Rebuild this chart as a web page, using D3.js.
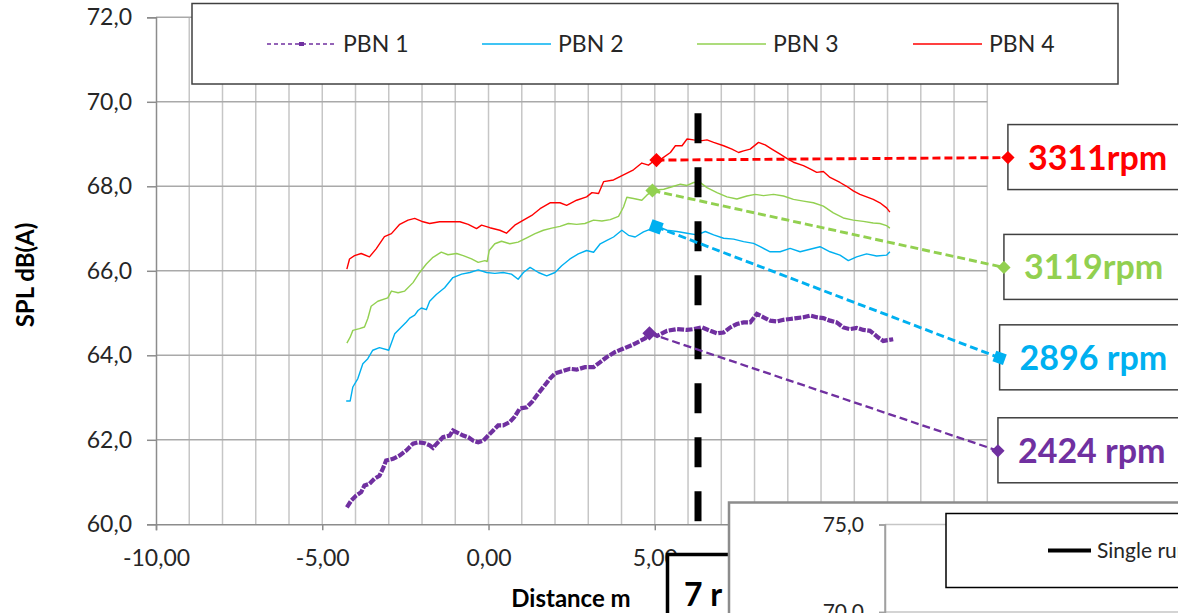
<!DOCTYPE html>
<html>
<head>
<meta charset="utf-8">
<script src="https://cdn.jsdelivr.net/npm/d3@7"></script>
<style>
  html, body { margin: 0; padding: 0; background: #fff; }
  svg { display: block; font-family: Lato, "Open Sans", sans-serif; }
</style>
</head>
<body>
<svg id="chart" width="1178" height="613"></svg>
<script>
// ---------- DATA ----------
const seriesNames = ["PBN 1", "PBN 2", "PBN 3", "PBN 4"];
const seriesColors = ["#7030A0", "#00B0F0", "#92D050", "#FF0000"];

const pbn1 = [[-4.26,60.40],[-4.13,60.56],[-3.98,60.68],[-3.83,60.76],[-3.73,60.92],[-3.58,60.96],[-3.43,61.08],[-3.28,61.15],[-3.18,61.31],[-3.08,61.51],[-2.87,61.55],[-2.67,61.63],[-2.47,61.75],[-2.27,61.91],[-2.12,61.94],[-1.92,61.92],[-1.77,61.87],[-1.67,61.81],[-1.52,61.94],[-1.37,62.06],[-1.17,62.10],[-1.07,62.22],[-0.91,62.16],[-0.76,62.10],[-0.61,62.06],[-0.46,61.98],[-0.31,61.94],[-0.16,61.98],[-0.01,62.10],[0.14,62.22],[0.29,62.34],[0.44,62.34],[0.64,62.42],[0.79,62.55],[0.94,62.74],[1.15,62.77],[1.30,62.89],[1.45,63.05],[1.65,63.25],[1.85,63.45],[2.00,63.57],[2.25,63.63],[2.45,63.68],[2.65,63.66],[2.90,63.72],[3.16,63.72],[3.36,63.84],[3.56,63.96],[3.81,64.08],[4.06,64.16],[4.31,64.24],[4.51,64.32],[4.71,64.40],[4.86,64.55],[5.07,64.46],[5.37,64.58],[5.67,64.62],[5.97,64.60],[6.17,64.62],[6.42,64.66],[6.67,64.58],[6.87,64.52],[7.07,64.54],[7.27,64.66],[7.47,64.74],[7.67,64.78],[7.87,64.78],[8.07,64.98],[8.27,64.90],[8.47,64.82],[8.67,64.80],[8.87,64.84],[9.07,64.86],[9.27,64.88],[9.47,64.90],[9.67,64.94],[9.87,64.90],[10.07,64.88],[10.27,64.82],[10.47,64.78],[10.67,64.66],[10.87,64.62],[11.07,64.65],[11.27,64.60],[11.47,64.58],[11.57,64.52],[11.72,64.42],[11.87,64.34],[12.02,64.36],[12.17,64.38]];

const pbn2 = [[-4.28,62.92],[-4.16,62.92],[-4.08,63.25],[-3.93,63.45],[-3.78,63.80],[-3.63,63.92],[-3.48,64.12],[-3.28,64.18],[-3.00,64.12],[-2.82,64.51],[-2.62,64.67],[-2.47,64.79],[-2.37,64.88],[-2.22,64.95],[-2.12,65.06],[-2.02,65.12],[-1.87,65.08],[-1.77,65.28],[-1.57,65.44],[-1.32,65.60],[-1.07,65.84],[-0.81,65.92],[-0.56,65.96],[-0.31,66.02],[-0.06,65.96],[0.19,65.94],[0.44,65.96],[0.69,65.92],[0.89,65.80],[1.05,65.96],[1.25,66.08],[1.50,65.96],[1.75,65.88],[2.00,65.96],[2.20,66.12],[2.45,66.28],[2.70,66.40],[2.95,66.48],[3.16,66.44],[3.36,66.64],[3.56,66.72],[3.76,66.80],[4.01,66.96],[4.21,66.84],[4.41,66.80],[4.66,66.92],[4.91,67.00],[5.12,67.04],[5.37,66.96],[5.67,66.93],[5.97,66.89],[6.27,66.85],[6.52,66.93],[6.77,66.85],[7.07,66.77],[7.37,66.75],[7.67,66.69],[7.97,66.65],[8.17,66.57],[8.47,66.45],[8.77,66.45],[9.07,66.53],[9.37,66.45],[9.67,66.51],[9.97,66.57],[10.27,66.45],[10.57,66.37],[10.82,66.24],[11.07,66.33],[11.37,66.40],[11.67,66.35],[11.97,66.37],[12.07,66.45]];

const pbn3 = [[-4.26,64.29],[-4.16,64.43],[-4.08,64.59],[-3.88,64.63],[-3.73,64.67],[-3.63,64.87],[-3.53,65.16],[-3.33,65.28],[-3.03,65.36],[-2.92,65.52],[-2.72,65.48],[-2.52,65.52],[-2.27,65.72],[-2.07,65.96],[-1.87,66.16],[-1.67,66.32],[-1.42,66.44],[-1.22,66.38],[-0.96,66.41],[-0.76,66.36],[-0.51,66.28],[-0.31,66.20],[-0.11,66.24],[-0.04,66.22],[0.02,66.48],[0.19,66.64],[0.39,66.70],[0.64,66.64],[0.89,66.68],[1.15,66.78],[1.40,66.88],[1.65,66.96],[1.90,67.01],[2.15,67.05],[2.40,67.12],[2.65,67.10],[2.90,67.12],[3.16,67.20],[3.41,67.18],[3.66,67.21],[3.91,67.29],[4.06,67.51],[4.16,67.74],[4.36,67.71],[4.61,67.67],[4.76,67.79],[4.96,67.91],[5.27,67.93],[5.52,67.99],[5.77,68.05],[5.97,68.02],[6.17,68.09],[6.35,68.10],[6.57,67.97],[6.87,67.85],[7.17,67.75],[7.47,67.70],[7.77,67.77],[8.02,67.81],[8.27,67.78],[8.57,67.81],[8.87,67.77],[9.17,67.69],[9.47,67.65],[9.77,67.61],[10.07,67.53],[10.37,67.37],[10.67,67.25],[10.97,67.20],[11.27,67.17],[11.57,67.13],[11.77,67.12],[11.97,67.07],[12.07,67.01]];

const pbn4 = [[-4.26,66.04],[-4.18,66.28],[-4.03,66.36],[-3.83,66.41],[-3.58,66.33],[-3.38,66.52],[-3.13,66.81],[-2.92,66.88],[-2.67,67.10],[-2.42,67.20],[-2.22,67.24],[-1.97,67.16],[-1.77,67.12],[-1.47,67.16],[-1.17,67.16],[-0.86,67.16],[-0.61,67.10],[-0.36,67.00],[-0.21,67.08],[0.04,67.02],[0.34,66.96],[0.54,66.89],[0.79,67.08],[1.05,67.20],[1.30,67.31],[1.55,67.47],[1.85,67.61],[2.15,67.61],[2.35,67.55],[2.65,67.67],[2.95,67.75],[3.11,67.85],[3.31,67.83],[3.46,68.11],[3.76,68.15],[4.06,68.27],[4.36,68.39],[4.61,68.55],[4.81,68.50],[5.02,68.63],[5.22,68.66],[5.47,68.80],[5.62,68.96],[5.82,68.96],[5.97,69.12],[6.17,69.10],[6.42,69.08],[6.57,69.10],[6.77,69.04],[7.07,68.96],[7.32,68.88],[7.52,68.80],[7.67,68.84],[7.87,68.88],[8.12,69.04],[8.32,68.98],[8.52,68.88],[8.77,68.76],[8.97,68.66],[9.17,68.57],[9.47,68.49],[9.67,68.41],[9.87,68.33],[10.07,68.35],[10.27,68.21],[10.57,68.09],[10.77,68.00],[10.97,67.89],[11.17,67.81],[11.37,67.75],[11.57,67.69],[11.77,67.61],[11.97,67.49],[12.07,67.39]];

// callouts (rpm labels), in data coordinates
const calloutLabels = ["2424 rpm", "2896 rpm", "3119rpm", "3311rpm"];
const calloutStart = [[4.84,64.52],[5.04,67.04],[4.93,67.90],[5.05,68.62]];
const calloutEnd   = [[15.32,61.74],[15.37,63.94],[15.50,66.08],[15.62,68.68]];

// single run marker line
const singleRunX = 6.3;
const singleRunY = [69.73, 60.0];

// axis ticks
const yTicks = [60, 62, 64, 66, 68, 70, 72];
const xTicks = [-10, -5, 0, 5, 10, 15];
const xGrid = d3.range(-9, 16, 1);
const insetTicks = [70, 75];

// ---------- DRAW ----------
const svg = d3.select("#chart");
const x = d3.scaleLinear().domain([-10, 15]).range([156, 987.3]);
const y = d3.scaleLinear().domain([60, 72]).range([524.3, 17.3]);
const fmtY = d => d.toFixed(1).replace(".", ",");
const fmtX = d => d.toFixed(2).replace(".", ",");

// gridlines
svg.append("g").selectAll("line").data(xGrid).join("line")
  .attr("x1", d => x(d)).attr("x2", d => x(d))
  .attr("y1", y(60)).attr("y2", y(72))
  .attr("stroke", "#c6c6c6").attr("stroke-width", 1.5);
svg.append("g").selectAll("line").data(yTicks.filter(d => d > 60)).join("line")
  .attr("x1", x(-10)).attr("x2", x(15))
  .attr("y1", d => y(d)).attr("y2", d => y(d))
  .attr("stroke", "#a9a9a9").attr("stroke-width", 1.5);

// axes
const yAxis = svg.append("g").attr("transform", `translate(${x(-10)},0)`)
  .call(d3.axisLeft(y).tickValues(yTicks).tickFormat(fmtY).tickSize(9).tickPadding(15));
const xAxis = svg.append("g").attr("transform", `translate(0,${y(60)})`)
  .call(d3.axisBottom(x).tickValues(xTicks).tickFormat(fmtX).tickSize(6).tickPadding(19));
[yAxis, xAxis].forEach(a => {
  a.select(".domain").attr("stroke", "#8c8c8c").attr("stroke-width", 1.5);
  a.selectAll(".tick line").attr("stroke", "#8c8c8c").attr("stroke-width", 1.5);
  a.selectAll(".tick text").attr("fill", "#262626").style("font-size", "23px")
    .style("font-family", "Lato, sans-serif");
});

// axis titles
svg.append("text").attr("transform", `translate(34,275) rotate(-90)`)
  .attr("text-anchor", "middle").style("font-size", "24px").style("font-weight", "bold")
  .attr("fill", "#000").text("SPL dB(A)");
svg.append("text").attr("x", 571).attr("y", 607)
  .attr("text-anchor", "middle").style("font-size", "24px").style("font-weight", "bold")
  .attr("fill", "#000").text("Distance m");

// series
const line = d3.line().x(d => x(d[0])).y(d => y(d[1]));
const allSeries = [pbn1, pbn2, pbn3, pbn4];
allSeries.forEach((s, i) => {
  if (i === 0) return;
  svg.append("path").attr("d", line(s)).attr("fill", "none")
    .attr("stroke", seriesColors[i]).attr("stroke-width", 1.4).attr("stroke-linejoin", "round");
});
svg.append("path").attr("d", line(pbn1)).attr("fill", "none")
  .attr("stroke", seriesColors[0]).attr("stroke-width", 4.2)
  .attr("stroke-dasharray", "7,1.5");

// single run dashed black line
svg.append("line")
  .attr("x1", x(singleRunX)).attr("x2", x(singleRunX))
  .attr("y1", y(singleRunY[0])).attr("y2", y(singleRunY[1]))
  .attr("stroke", "#000").attr("stroke-width", 7).attr("stroke-dasharray", "30,24");

// callouts
calloutStart.forEach((s, i) => {
  const e = calloutEnd[i];
  const c = seriesColors[i];
  const ex = x(e[0]), ey = y(e[1]);
  svg.append("rect").attr("x", ex).attr("y", ey - 33).attr("width", 260).attr("height", 65)
    .attr("fill", "#fff").attr("stroke", "#404040").attr("stroke-width", 1.5);
  svg.append("line").attr("x1", x(s[0])).attr("y1", y(s[1])).attr("x2", ex).attr("y2", ey)
    .attr("stroke", c).attr("stroke-width", i === 0 ? 2.3 : 2.9).attr("stroke-dasharray", "8,4");
  [[s, 16], [e, 15]].forEach(([p, sz]) => {
    const sym = i === 1 ? d3.symbol().type(d3.symbolSquare).size(sz * sz * 0.55)
                        : d3.symbol().type(d3.symbolDiamond2).size(sz * sz * 0.5);
    svg.append("path").attr("d", sym())
      .attr("transform", `translate(${x(p[0])},${y(p[1])})` + (i === 1 ? " rotate(20)" : ""))
      .attr("fill", c);
  });
  svg.append("text").attr("x", ex + 20).attr("y", ey + 12)
    .style("font-size", "34px").style("font-weight", "bold").attr("fill", c)
    .text(calloutLabels[i]);
});

// legend
svg.append("rect").attr("x", 192).attr("y", 3.5).attr("width", 926).attr("height", 80.5)
  .attr("fill", "#fff").attr("stroke", "#404040").attr("stroke-width", 1.5);
const legX = [267, 482, 697, 913];
seriesNames.forEach((n, i) => {
  const g = svg.append("g").attr("transform", `translate(${legX[i]},44)`);
  g.append("line").attr("x1", 0).attr("x2", 69).attr("y1", 0).attr("y2", 0)
    .attr("stroke", seriesColors[i]).attr("stroke-width", i === 0 ? 1.5 : 1.3)
    .attr("stroke-dasharray", i === 0 ? "4,3" : null);
  if (i === 0) g.append("rect").attr("x", 32).attr("y", -2).attr("width", 5).attr("height", 4)
    .attr("fill", seriesColors[0]);
  g.append("text").attr("x", 76).attr("y", 0).attr("dy", "0.35em")
    .style("font-size", "23px").attr("fill", "#262626").text(n);
});

// "7 r" box
svg.append("rect").attr("x", 667.5).attr("y", 554.5).attr("width", 200).attr("height", 100)
  .attr("fill", "#fff").attr("stroke", "#000").attr("stroke-width", 3.5);
svg.append("text").attr("x", 684).attr("y", 606)
  .style("font-size", "32px").style("font-weight", "bold").attr("fill", "#000").text("7 r");

// inset chart (overlapping second chart)
const inset = svg.append("g");
inset.append("rect").attr("x", 729).attr("y", 502.5).attr("width", 500).attr("height", 200)
  .attr("fill", "#fff").attr("stroke", "#8c8c8c").attr("stroke-width", 2.5);
const yi = d3.scaleLinear().domain([70, 75]).range([612, 524.5]);
inset.selectAll("line.grid").data(insetTicks).join("line").attr("class", "grid")
  .attr("x1", 885).attr("x2", 1178).attr("y1", d => yi(d)).attr("y2", d => yi(d))
  .attr("stroke", "#c6c6c6").attr("stroke-width", 1.5);
const insetAxis = inset.append("g").attr("transform", "translate(885,0)")
  .call(d3.axisLeft(yi).tickValues(insetTicks).tickFormat(fmtY).tickSize(6).tickPadding(15));
insetAxis.select(".domain").attr("stroke", "#a0a0a0").attr("stroke-width", 1.5);
insetAxis.selectAll(".tick line").attr("stroke", "#a0a0a0").attr("stroke-width", 1.5);
insetAxis.selectAll(".tick text").attr("fill", "#262626").style("font-size", "21px")
  .style("font-family", "Lato, sans-serif");
inset.append("line").attr("x1", 885).attr("x2", 885).attr("y1", yi(75)).attr("y2", 640)
  .attr("stroke", "#a0a0a0").attr("stroke-width", 1.5);
inset.append("rect").attr("x", 946).attr("y", 513.5).attr("width", 300).attr("height", 74)
  .attr("fill", "#fff").attr("stroke", "#000").attr("stroke-width", 1.5);
inset.append("line").attr("x1", 1048).attr("x2", 1091).attr("y1", 550.5).attr("y2", 550.5)
  .attr("stroke", "#000").attr("stroke-width", 4);
inset.append("text").attr("x", 1097).attr("y", 550.5).attr("dy", "0.35em")
  .style("font-size", "21px").attr("fill", "#262626").text("Single run");
</script>
</body>
</html>
